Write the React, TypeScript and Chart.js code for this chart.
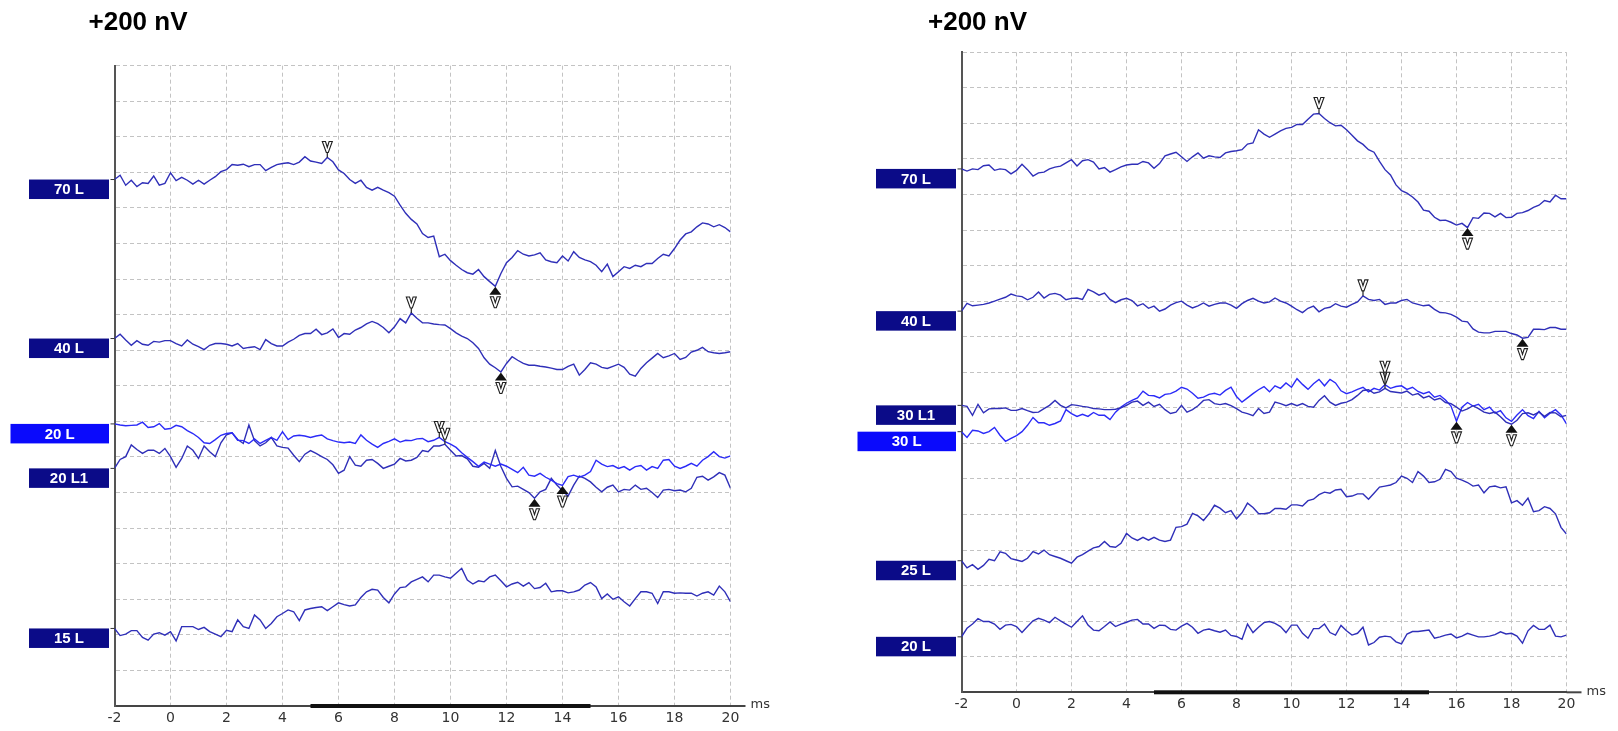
import React, { useEffect, useRef } from "react";
import { Chart, registerables } from "chart.js";
Chart.register(...registerables);

// ---------- time base (ms) ----------
const TIME_MS = [
  -2, -1.8, -1.6, -1.4, -1.2, -1, -0.8, -0.6, -0.4, -0.2,
  0, 0.2, 0.4, 0.6, 0.8, 1, 1.2, 1.4, 1.6, 1.8,
  2, 2.2, 2.4, 2.6, 2.8, 3, 3.2, 3.4, 3.6, 3.8,
  4, 4.2, 4.4, 4.6, 4.8, 5, 5.2, 5.4, 5.6, 5.8,
  6, 6.2, 6.4, 6.6, 6.8, 7, 7.2, 7.4, 7.6, 7.8,
  8, 8.2, 8.4, 8.6, 8.8, 9, 9.2, 9.4, 9.6, 9.8,
  10, 10.2, 10.4, 10.6, 10.8, 11, 11.2, 11.4, 11.6, 11.8,
  12, 12.2, 12.4, 12.6, 12.8, 13, 13.2, 13.4, 13.6, 13.8,
  14, 14.2, 14.4, 14.6, 14.8, 15, 15.2, 15.4, 15.6, 15.8,
  16, 16.2, 16.4, 16.6, 16.8, 17, 17.2, 17.4, 17.6, 17.8,
  18, 18.2, 18.4, 18.6, 18.8, 19, 19.2, 19.4, 19.6, 19.8,
  20,
];
const X_TICKS_MIN = -2;
const X_TICKS_MAX = 20;
const Y_DIVISIONS = 18;
const STIM_START_MS = 5;
const STIM_END_MS = 15;
const SCALE_TEXT = "+200 nV";

// ---------- left panel traces (grid divisions, 0 = bottom) ----------
const L_70L = [
  14.80, 14.92, 14.64, 14.78, 14.60, 14.71, 14.69, 14.90, 14.64, 14.69,
  14.99, 14.77, 14.86, 14.78, 14.67, 14.78, 14.67, 14.78, 14.88, 15.02,
  15.08, 15.22, 15.20, 15.23, 15.16, 15.22, 15.22, 15.05, 15.14, 15.22,
  15.25, 15.27, 15.22, 15.29, 15.44, 15.32, 15.29, 15.25, 15.42, 15.30,
  15.07, 14.97, 14.80, 14.69, 14.78, 14.58, 14.50, 14.58, 14.50, 14.43,
  14.33, 14.08, 13.85, 13.68, 13.55, 13.28, 13.17, 13.21, 12.63, 12.70,
  12.52, 12.39, 12.27, 12.18, 12.14, 12.27, 12.07, 11.93, 11.80, 12.16,
  12.46, 12.61, 12.80, 12.70, 12.65, 12.68, 12.74, 12.54, 12.49, 12.46,
  12.65, 12.51, 12.77, 12.61, 12.54, 12.49, 12.39, 12.21, 12.42, 12.07,
  12.21, 12.35, 12.30, 12.39, 12.35, 12.44, 12.44, 12.58, 12.70, 12.65,
  12.86, 13.10, 13.27, 13.33, 13.47, 13.58, 13.55, 13.47, 13.53, 13.45,
  13.33,
];
const L_40L = [
  10.33, 10.45, 10.29, 10.14, 10.27, 10.17, 10.14, 10.25, 10.23, 10.27,
  10.27, 10.19, 10.12, 10.29, 10.17, 10.10, 10.02, 10.14, 10.19, 10.19,
  10.17, 10.12, 10.19, 10.05, 10.08, 10.10, 10.02, 10.30, 10.19, 10.12,
  10.12, 10.23, 10.31, 10.42, 10.47, 10.47, 10.59, 10.44, 10.49, 10.60,
  10.36, 10.47, 10.45, 10.57, 10.64, 10.74, 10.81, 10.75, 10.64, 10.49,
  10.66, 10.89, 10.77, 11.05, 10.90, 10.77, 10.77, 10.74, 10.72, 10.71,
  10.61, 10.49, 10.40, 10.33, 10.21, 10.05, 9.79, 9.61, 9.51, 9.39,
  9.63, 9.82, 9.72, 9.63, 9.58, 9.58, 9.55, 9.53, 9.50, 9.46,
  9.46, 9.55, 9.61, 9.30, 9.46, 9.65, 9.61, 9.52, 9.49, 9.55,
  9.61, 9.52, 9.33, 9.27, 9.49, 9.65, 9.78, 9.91, 9.79, 9.84,
  9.91, 9.74, 9.80, 9.95, 10.00, 10.08, 9.96, 9.93, 9.91, 9.93,
  9.96,
];
const L_20L = [
  7.93, 7.90, 7.88, 7.89, 7.90, 7.98, 7.83, 7.85, 7.94, 7.78,
  7.80, 7.89, 7.85, 7.74, 7.66, 7.55, 7.40, 7.38, 7.49, 7.61,
  7.66, 7.68, 7.47, 7.46, 7.38, 7.51, 7.38, 7.47, 7.55, 7.47,
  7.71, 7.49, 7.59, 7.61, 7.59, 7.55, 7.59, 7.62, 7.51, 7.46,
  7.42, 7.40, 7.42, 7.38, 7.62, 7.47, 7.36, 7.27, 7.38, 7.44,
  7.51, 7.42, 7.47, 7.46, 7.51, 7.52, 7.43, 7.47, 7.55, 7.43,
  7.36, 7.27, 7.12, 6.99, 6.87, 6.74, 6.86, 6.80, 6.74, 6.80,
  6.74, 6.65, 6.56, 6.71, 6.49, 6.46, 6.54, 6.43, 6.35, 6.25,
  6.20, 6.45, 6.49, 6.43, 6.49, 6.59, 6.91, 6.80, 6.73, 6.76,
  6.68, 6.73, 6.63, 6.73, 6.76, 6.63, 6.73, 6.68, 6.91, 6.93,
  6.74, 6.68, 6.74, 6.82, 6.74, 6.91, 7.01, 7.15, 7.01, 6.97,
  7.03,
];
const L_20L1 = [
  6.68, 6.93, 7.01, 7.34, 7.21, 7.10, 7.19, 7.19, 7.10, 7.24,
  7.01, 6.71, 6.96, 7.31, 7.19, 6.96, 7.31, 7.15, 7.01, 7.40,
  7.62, 7.68, 7.49, 7.38, 7.90, 7.46, 7.31, 7.40, 7.55, 7.31,
  7.27, 7.25, 7.05, 6.87, 7.08, 7.18, 7.10, 7.01, 6.93, 6.78,
  6.54, 6.63, 7.01, 6.77, 6.74, 6.91, 6.93, 6.82, 6.68, 6.74,
  6.80, 6.96, 6.89, 6.91, 6.99, 7.18, 7.15, 7.31, 7.31, 7.36,
  7.19, 7.03, 7.04, 6.95, 6.74, 6.71, 6.82, 6.68, 7.18, 6.73,
  6.40, 6.16, 6.18, 6.09, 6.00, 5.84, 6.02, 6.09, 6.40, 6.21,
  6.05, 5.90, 6.21, 6.46, 6.40, 6.30, 6.15, 6.02, 6.15, 6.21,
  6.02, 6.09, 6.07, 6.21, 6.09, 6.12, 6.00, 5.86, 6.07, 6.09,
  6.05, 6.07, 6.02, 6.12, 6.43, 6.46, 6.35, 6.44, 6.56, 6.49,
  6.12,
];
const L_15L = [
  2.18, 1.98, 2.02, 2.12, 2.12, 1.93, 1.85, 2.02, 2.06, 1.99,
  2.09, 1.83, 2.23, 2.23, 2.23, 2.15, 2.21, 2.09, 2.02, 1.95,
  2.13, 2.09, 2.42, 2.23, 2.18, 2.56, 2.42, 2.18, 2.32, 2.51,
  2.60, 2.70, 2.65, 2.40, 2.70, 2.74, 2.77, 2.79, 2.68, 2.79,
  2.90, 2.85, 2.81, 2.84, 3.05, 3.21, 3.28, 3.26, 3.05, 2.90,
  3.15, 3.33, 3.35, 3.49, 3.56, 3.63, 3.49, 3.68, 3.68, 3.63,
  3.59, 3.73, 3.87, 3.54, 3.43, 3.52, 3.49, 3.63, 3.68, 3.52,
  3.35, 3.43, 3.48, 3.37, 3.47, 3.30, 3.33, 3.45, 3.21, 3.24,
  3.24, 3.18, 3.21, 3.26, 3.40, 3.47, 3.35, 3.02, 3.15, 3.00,
  3.07, 2.93, 2.81, 3.02, 3.21, 3.21, 3.17, 2.88, 3.21, 3.21,
  3.17, 3.18, 3.17, 3.17, 3.09, 3.17, 3.21, 3.12, 3.37, 3.21,
  2.93,
];
const LEFT_LABELS = ["70 L", "40 L", "20 L", "20 L1", "15 L"];
const LEFT_BRIGHT = [false, false, true, false, false];
const LEFT_PEAK_MS = [5.6, 8.6, 9.6, 9.8, null];
const LEFT_TROUGH_MS = [11.6, 11.8, 14.0, 13.0, null];

// ---------- right panel traces ----------
const R_70L = [
  14.72, 14.66, 14.72, 14.70, 14.81, 14.83, 14.68, 14.72, 14.70, 14.58,
  14.68, 14.85, 14.70, 14.52, 14.61, 14.63, 14.72, 14.77, 14.80, 14.89,
  14.98, 14.80, 14.95, 14.98, 14.91, 14.72, 14.76, 14.63, 14.70, 14.78,
  14.83, 14.85, 14.85, 14.93, 14.89, 14.74, 14.87, 15.09, 15.14, 15.19,
  15.06, 14.93, 15.06, 15.17, 15.02, 15.09, 15.06, 15.04, 15.17, 15.21,
  15.23, 15.26, 15.42, 15.45, 15.82, 15.70, 15.61, 15.70, 15.79, 15.86,
  15.89, 15.97, 15.97, 16.12, 16.26, 16.28, 16.14, 16.02, 15.93, 15.95,
  15.82, 15.67, 15.51, 15.41, 15.26, 15.19, 14.93, 14.70, 14.55, 14.27,
  14.11, 14.04, 13.93, 13.79, 13.56, 13.53, 13.36, 13.27, 13.28, 13.22,
  13.14, 13.19, 13.07, 13.35, 13.33, 13.48, 13.47, 13.37, 13.47, 13.35,
  13.36, 13.47, 13.49, 13.55, 13.64, 13.70, 13.83, 13.79, 13.98, 13.88,
  13.88,
];
const R_40L = [
  10.72, 10.94, 10.87, 10.89, 10.91, 10.95, 11.00, 11.06, 11.11, 11.20,
  11.15, 11.13, 11.04, 11.11, 11.26, 11.09, 11.19, 11.22, 11.17, 11.04,
  11.08, 11.09, 11.05, 11.33, 11.26, 11.17, 11.23, 11.05, 10.96, 11.04,
  11.08, 11.02, 10.87, 10.93, 10.80, 10.86, 10.72, 10.78, 10.89, 10.96,
  11.00, 10.89, 10.81, 10.87, 10.95, 10.86, 10.91, 10.95, 10.95, 10.89,
  10.80, 10.93, 11.02, 11.08, 11.00, 10.95, 10.98, 11.09, 11.00, 10.95,
  10.86, 10.76, 10.68, 10.80, 10.86, 10.70, 10.80, 10.83, 10.93, 10.86,
  10.83, 10.91, 10.98, 11.15, 11.05, 11.02, 11.05, 10.91, 10.95, 10.95,
  11.02, 11.05, 10.95, 10.91, 10.87, 10.89, 10.77, 10.68, 10.67, 10.63,
  10.55, 10.44, 10.42, 10.22, 10.13, 10.11, 10.11, 10.15, 10.15, 10.15,
  10.09, 10.05, 9.96, 9.98, 10.21, 10.21, 10.20, 10.26, 10.26, 10.21,
  10.21,
];
const R_30L1 = [
  8.07, 8.04, 7.79, 8.10, 7.86, 7.97, 7.98, 7.98, 8.00, 7.93,
  7.93, 7.98, 7.92, 7.87, 7.88, 7.98, 8.07, 8.21, 8.07, 8.00,
  8.09, 8.07, 8.04, 8.02, 7.98, 7.97, 7.95, 7.95, 7.96, 8.00,
  8.07, 8.16, 8.19, 8.07, 8.16, 8.04, 8.10, 7.95, 7.84, 7.88,
  8.07, 7.88, 7.95, 8.06, 8.21, 8.23, 8.12, 8.09, 8.12, 8.06,
  7.98, 7.88, 7.84, 7.78, 7.98, 7.84, 7.88, 8.16, 8.12, 8.06,
  8.12, 8.06, 8.12, 8.04, 8.02, 8.21, 8.34, 8.16, 8.07, 8.13,
  8.16, 8.23, 8.35, 8.49, 8.51, 8.41, 8.45, 8.55, 8.46, 8.44,
  8.42, 8.47, 8.36, 8.40, 8.28, 8.33, 8.22, 8.27, 8.15, 8.12,
  8.02, 7.91, 7.97, 8.06, 7.98, 7.88, 7.84, 7.88, 7.75, 7.60,
  7.54, 7.65, 7.84, 7.86, 7.80, 7.88, 7.76, 7.87, 7.86, 7.75,
  7.79,
];
const R_30L = [
  7.33, 7.17, 7.37, 7.35, 7.28, 7.33, 7.45, 7.23, 7.06, 7.14,
  7.22, 7.33, 7.51, 7.73, 7.58, 7.58, 7.51, 7.56, 7.63, 7.95,
  7.84, 7.76, 7.82, 7.76, 7.87, 7.79, 7.79, 7.67, 7.88, 8.02,
  8.13, 8.21, 8.28, 8.47, 8.35, 8.34, 8.28, 8.38, 8.40, 8.47,
  8.58, 8.53, 8.41, 8.27, 8.30, 8.38, 8.41, 8.36, 8.49, 8.58,
  8.32, 8.16, 8.28, 8.40, 8.51, 8.60, 8.45, 8.62, 8.55, 8.70,
  8.58, 8.82, 8.66, 8.52, 8.68, 8.80, 8.62, 8.80, 8.70, 8.48,
  8.40, 8.45, 8.52, 8.58, 8.45, 8.55, 8.50, 8.65, 8.55, 8.60,
  8.62, 8.52, 8.58, 8.46, 8.40, 8.45, 8.30, 8.35, 8.22, 8.05,
  7.62, 8.02, 8.15, 8.05, 8.10, 7.95, 8.02, 7.85, 7.92, 7.72,
  7.62, 7.80, 7.95, 7.78, 7.70, 7.90, 7.72, 7.85, 7.95, 7.80,
  7.55,
];
const R_25L = [
  3.70, 3.50, 3.59, 3.46, 3.57, 3.74, 3.70, 3.95, 3.91, 3.76,
  3.72, 3.68, 3.77, 3.96, 3.89, 4.00, 3.87, 3.82, 3.77, 3.70,
  3.63, 3.80, 3.87, 3.97, 4.06, 4.10, 4.24, 4.10, 4.08, 4.19,
  4.47, 4.34, 4.27, 4.36, 4.28, 4.36, 4.28, 4.24, 4.28, 4.64,
  4.66, 4.73, 5.03, 4.96, 4.83, 5.02, 5.26, 5.18, 5.05, 5.11,
  4.88, 5.05, 5.32, 5.20, 5.03, 5.02, 5.05, 5.17, 5.17, 5.15,
  5.27, 5.27, 5.24, 5.39, 5.43, 5.56, 5.63, 5.60, 5.69, 5.71,
  5.50, 5.52, 5.58, 5.58, 5.43, 5.60, 5.77, 5.80, 5.83, 5.90,
  6.08, 6.02, 5.90, 6.21, 6.08, 5.90, 5.92, 5.99, 6.27, 6.21,
  6.02, 5.97, 5.90, 5.80, 5.83, 5.61, 5.78, 5.80, 5.75, 5.78,
  5.33, 5.39, 5.26, 5.46, 5.08, 5.11, 5.22, 5.17, 5.02, 4.64,
  4.45,
];
const R_20L = [
  1.56, 1.80, 1.92, 2.07, 1.99, 1.99, 1.92, 1.77, 1.89, 1.91,
  1.85, 1.68, 1.85, 2.01, 2.08, 2.03, 1.96, 2.11, 2.01, 1.92,
  1.83, 1.99, 2.15, 1.89, 1.75, 1.73, 1.85, 1.98, 1.85, 1.92,
  1.97, 2.03, 2.05, 1.92, 1.92, 1.80, 1.89, 1.88, 1.77, 1.75,
  1.86, 1.94, 1.83, 1.66, 1.75, 1.78, 1.73, 1.69, 1.75, 1.60,
  1.57, 1.49, 1.92, 1.68, 1.83, 1.96, 1.99, 1.94, 1.85, 1.68,
  1.89, 1.89, 1.66, 1.52, 1.79, 1.79, 1.92, 1.68, 1.61, 1.88,
  1.73, 1.61, 1.66, 1.83, 1.33, 1.40, 1.55, 1.58, 1.56, 1.42,
  1.36, 1.64, 1.71, 1.71, 1.73, 1.75, 1.52, 1.56, 1.61, 1.64,
  1.53, 1.58, 1.66, 1.61, 1.56, 1.56, 1.58, 1.62, 1.70, 1.64,
  1.66, 1.58, 1.38, 1.73, 1.88, 1.77, 1.77, 1.89, 1.58, 1.56,
  1.61,
];
const RIGHT_LABELS = ["70 L", "40 L", "30 L1", "30 L", "25 L", "20 L"];
const RIGHT_BRIGHT = [false, false, false, true, false, false];
const RIGHT_PEAK_MS = [11.0, 12.6, 13.4, 13.4, null, null];
const RIGHT_TROUGH_MS = [16.4, 18.4, 18.0, 16.0, null, null];

// ---------- styles ----------
const DARK_TRACE = "#2f2fb8";
const BRIGHT_TRACE = "#2b2bf8";
const DARK_BOX = "#0b0b88";
const BRIGHT_BOX = "#0a0afc";
const GRID = "#c3c3c3";
const AXIS = "#454545";

type PanelSpec = {
  labels: string[];
  series: number[][];
  bright: boolean[];
  peaks: (number | null)[];
  troughs: (number | null)[];
  canvasLeft: number;
  canvasWidth: number;
  padding: { left: number; right: number; top: number; bottom: number };
  titleX: number;
  titleBaseline: number;
};

const LEFT_SPEC: PanelSpec = {
  labels: LEFT_LABELS,
  series: [L_70L, L_40L, L_20L, L_20L1, L_15L],
  bright: LEFT_BRIGHT,
  peaks: LEFT_PEAK_MS,
  troughs: LEFT_TROUGH_MS,
  canvasLeft: 0,
  canvasWidth: 810,
  padding: { left: 114.5, right: 79.5, top: 65.7, bottom: 0 },
  titleX: 88.5,
  titleBaseline: 29.5,
};
const RIGHT_SPEC: PanelSpec = {
  labels: RIGHT_LABELS,
  series: [R_70L, R_40L, R_30L1, R_30L, R_25L, R_20L],
  bright: RIGHT_BRIGHT,
  peaks: RIGHT_PEAK_MS,
  troughs: RIGHT_TROUGH_MS,
  canvasLeft: 808,
  canvasWidth: 810,
  padding: { left: 153.5, right: 51.5, top: 52.3, bottom: 13.7 },
  titleX: 120,
  titleBaseline: 29.5,
};

function valueAt(series: number[], ms: number): number {
  const idx = TIME_MS.findIndex((t) => Math.abs(t - ms) < 1e-6);
  return series[idx];
}

// hollow "V" marker glyph, 11 px tall
function drawV(ctx: CanvasRenderingContext2D, x: number, top: number) {
  ctx.beginPath();
  ctx.moveTo(x - 5, top);
  ctx.lineTo(x - 1.8, top);
  ctx.lineTo(x, top + 5.8);
  ctx.lineTo(x + 1.8, top);
  ctx.lineTo(x + 5, top);
  ctx.lineTo(x + 1, top + 11);
  ctx.lineTo(x - 1, top + 11);
  ctx.closePath();
  ctx.fillStyle = "#ffffff";
  ctx.fill();
  ctx.strokeStyle = "#1e1e1e";
  ctx.lineWidth = 1.1;
  ctx.stroke();
}

function makeDecor(spec: PanelSpec) {
  return {
    id: "abrDecor",
    afterDatasetsDraw(chart: any) {
      const ctx: CanvasRenderingContext2D = chart.ctx;
      const xs = chart.scales.x;
      const ys = chart.scales.y;
      const area = chart.chartArea;
      ctx.save();

      // axis extension and unit
      ctx.strokeStyle = AXIS;
      ctx.lineWidth = 2;
      ctx.beginPath();
      ctx.moveTo(area.right, area.bottom);
      ctx.lineTo(area.right + 15, area.bottom);
      ctx.stroke();
      ctx.fillStyle = "#333";
      ctx.font = '13px "DejaVu Sans", Verdana, sans-serif';
      ctx.textAlign = "left";
      ctx.textBaseline = "middle";
      ctx.fillText("ms", area.right + 20, area.bottom - 1);

      // stimulus bar
      const s0 = xs.getPixelForValue(STIM_START_MS);
      const s1 = xs.getPixelForValue(STIM_END_MS);
      ctx.fillStyle = "#111";
      ctx.fillRect(s0, area.bottom - 2, s1 - s0, 4);

      // title
      ctx.fillStyle = "#000";
      ctx.font = 'bold 26px "Liberation Sans", Arial, sans-serif';
      ctx.textBaseline = "alphabetic";
      ctx.fillText(SCALE_TEXT, spec.titleX, spec.titleBaseline);

      // trace labels
      spec.series.forEach((s, i) => {
        const y0 = ys.getPixelForValue(s[0]);
        const w = spec.bright[i] ? 98.5 : 80;
        const right = area.left - 5.5;
        ctx.fillStyle = spec.bright[i] ? BRIGHT_BOX : DARK_BOX;
        ctx.fillRect(right - w, y0, w, 19.5);
        ctx.fillStyle = "#ffffff";
        ctx.font = 'bold 15px "Liberation Sans", Arial, sans-serif';
        ctx.textAlign = "center";
        ctx.textBaseline = "middle";
        ctx.fillText(spec.labels[i], right - w / 2, y0 + 10.5);
        ctx.strokeStyle = "#333";
        ctx.lineWidth = 1;
        ctx.beginPath();
        ctx.moveTo(area.left - 4, y0);
        ctx.lineTo(area.left, y0);
        ctx.stroke();
      });

      // peak markers
      const placed: { x: number; top: number }[] = [];
      spec.series.forEach((s, i) => {
        const ms = spec.peaks[i];
        if (ms === null) return;
        const px = xs.getPixelForValue(ms);
        const py = ys.getPixelForValue(valueAt(s, ms));
        let top = py - 16;
        placed.forEach((p) => {
          if (Math.abs(p.x - px) < 3 && top + 11 > p.top && top < p.top + 11) {
            top = Math.min(top, p.top - 11);
          }
        });
        placed.push({ x: px, top });
        ctx.strokeStyle = "#222";
        ctx.lineWidth = 1.2;
        ctx.beginPath();
        ctx.moveTo(px, top + 11);
        ctx.lineTo(px, py);
        ctx.stroke();
        drawV(ctx, px, top);
      });

      // trough markers
      spec.series.forEach((s, i) => {
        const ms = spec.troughs[i];
        if (ms === null) return;
        const px = xs.getPixelForValue(ms);
        const py = ys.getPixelForValue(valueAt(s, ms));
        ctx.fillStyle = "#111";
        ctx.beginPath();
        ctx.moveTo(px, py + 0.5);
        ctx.lineTo(px + 6, py + 8.5);
        ctx.lineTo(px - 6, py + 8.5);
        ctx.closePath();
        ctx.fill();
        drawV(ctx, px, py + 10.5);
      });

      ctx.restore();
    },
  };
}

function Panel({ spec }: { spec: PanelSpec }) {
  const ref = useRef<HTMLCanvasElement | null>(null);
  useEffect(() => {
    if (!ref.current) return;
    const chart = new Chart(ref.current, {
      type: "line",
      data: {
        datasets: spec.series.map((s, i) => ({
          label: spec.labels[i],
          data: TIME_MS.map((t, k) => ({ x: t, y: s[k] })),
          borderColor: spec.bright[i] ? BRIGHT_TRACE : DARK_TRACE,
          borderWidth: 1.4,
          pointRadius: 0,
          tension: 0,
          fill: false,
        })),
      },
      options: {
        responsive: false,
        animation: false,
        events: [],
        layout: { padding: spec.padding },
        plugins: { legend: { display: false }, tooltip: { enabled: false } },
        scales: {
          x: {
            type: "linear",
            min: X_TICKS_MIN,
            max: X_TICKS_MAX,
            ticks: {
              stepSize: 2,
              autoSkip: false,
              maxRotation: 0,
              padding: 4,
              color: "#333",
              font: { family: '"DejaVu Sans", Verdana, sans-serif', size: 14 },
              callback: (v: any) => String(v),
            },
            grid: { color: GRID, lineWidth: 1, drawTicks: false },
            border: { display: true, color: AXIS, width: 2, dash: [4, 3] },
            afterFit: (s: any) => {
              s.height = 25;
            },
          },
          y: {
            type: "linear",
            min: 0,
            max: Y_DIVISIONS,
            ticks: { stepSize: 1, display: false },
            grid: { color: GRID, lineWidth: 1, drawTicks: false },
            border: { display: true, color: "#555", width: 2, dash: [4, 3] },
            afterFit: (s: any) => {
              s.width = 0;
            },
          },
        },
      } as any,
      plugins: [makeDecor(spec)],
    });
    return () => chart.destroy();
  }, [spec]);
  return (
    <canvas
      ref={ref}
      width={spec.canvasWidth}
      height={731}
      style={{
        position: "absolute",
        left: spec.canvasLeft,
        top: 0,
        width: spec.canvasWidth,
        height: 731,
      }}
    />
  );
}

export default function App() {
  return (
    <div
      style={{
        position: "absolute",
        left: 0,
        top: 0,
        width: 1618,
        height: 731,
        background: "#ffffff",
        overflow: "hidden",
      }}
    >
      <Panel spec={LEFT_SPEC} />
      <Panel spec={RIGHT_SPEC} />
    </div>
  );
}
